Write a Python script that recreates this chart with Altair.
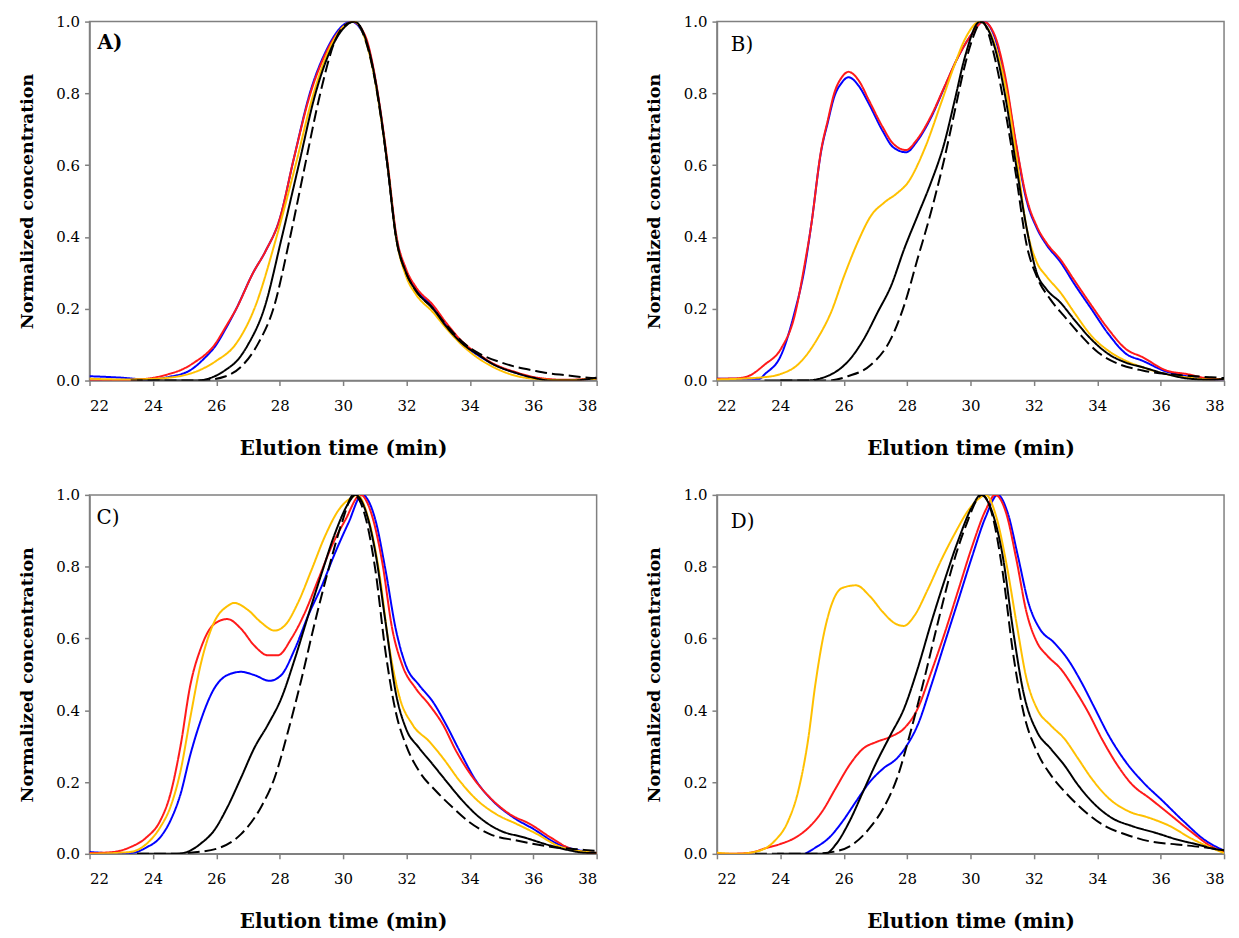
import altair as alt
import pandas as pd

# ---------------- data (elution time, normalized concentration) ----------------
A_BLUE = [(22,0.012),(23,0.008),(23.8,0.003),(24.5,0.01),(25.2,0.03),(25.6,0.06),(26.0,0.1),(26.3,0.145),(26.63,0.2),(27.16,0.3),(27.55,0.36),(28.0,0.45),(28.45,0.62),(28.95,0.8),(29.5,0.925),(30.0,0.99),(30.25,1.0),(30.7,0.955),(31.0,0.845),(31.2,0.735),(31.4,0.6),(31.67,0.405),(31.99,0.305),(32.3,0.255),(32.84,0.205),(33.26,0.155),(33.8,0.1),(34.3,0.068),(34.64,0.05),(35.5,0.02),(36.0,0.008),(36.5,0.002),(37,0.001),(38,0.005)]
A_RED = [(22,0.0),(23,0.001),(23.8,0.005),(24.5,0.018),(24.9,0.03),(25.3,0.05),(25.95,0.1),(26.3,0.15),(26.63,0.2),(27.16,0.3),(27.55,0.36),(28.0,0.45),(28.45,0.62),(28.97,0.8),(29.5,0.92),(30.0,0.985),(30.3,1.0),(30.7,0.96),(31.0,0.85),(31.2,0.74),(31.4,0.61),(31.67,0.41),(31.99,0.31),(32.3,0.26),(32.84,0.21),(33.26,0.16),(33.8,0.105),(34.3,0.072),(34.64,0.052),(35.5,0.022),(36,0.01),(36.5,0.004),(37,0.002),(38,0.006)]
A_YELLOW = [(22,0.005),(23,0.003),(23.8,0.004),(24.5,0.008),(25,0.015),(25.5,0.03),(26,0.055),(26.6,0.1),(27.2,0.2),(27.9,0.4),(28.5,0.6),(29.07,0.8),(29.6,0.93),(30.0,0.985),(30.35,1.0),(30.7,0.95),(31.0,0.84),(31.2,0.73),(31.4,0.6),(31.67,0.4),(31.99,0.29),(32.3,0.24),(32.84,0.19),(33.26,0.145),(33.8,0.095),(34.3,0.06),(34.64,0.042),(35.5,0.012),(36,0.005),(36.5,0.002),(37,0.001),(38,0.005)]
A_BLACK = [(23.5,0.0),(25.4,0.0),(25.9,0.01),(26.3,0.03),(26.7,0.06),(27.0,0.1),(27.51,0.2),(28.07,0.4),(28.6,0.6),(29.13,0.8),(29.6,0.92),(30.0,0.98),(30.35,1.0),(30.7,0.955),(31.0,0.845),(31.2,0.735),(31.4,0.6),(31.67,0.4),(31.99,0.3),(32.3,0.25),(32.84,0.2),(33.26,0.15),(33.8,0.1),(34.3,0.07),(34.64,0.05),(35.5,0.02),(36.0,0.008),(36.55,0.0),(37.2,0.0),(38,0.008)]
A_DASHED = [(23.3,0.0),(25.5,0.0),(26.3,0.012),(26.8,0.04),(27.3,0.1),(27.8,0.2),(28.33,0.4),(28.8,0.6),(29.28,0.8),(29.76,0.95),(30.05,0.99),(30.35,1.0),(30.7,0.95),(31.0,0.84),(31.2,0.73),(31.4,0.6),(31.67,0.4),(31.99,0.3),(32.3,0.25),(32.84,0.2),(33.26,0.155),(33.8,0.105),(34.3,0.075),(35,0.05),(35.5,0.037),(36,0.028),(36.5,0.02),(37,0.015),(37.5,0.01),(38,0.006)]

B_BLUE = [(22,0.005),(23.35,0.005),(23.5,0.017),(24.03,0.072),(24.45,0.19),(24.76,0.31),(24.97,0.43),(25.29,0.64),(25.5,0.72),(25.7,0.79),(25.94,0.83),(26.15,0.845),(26.48,0.82),(26.8,0.77),(27.23,0.695),(27.56,0.65),(27.97,0.636),(28.3,0.665),(28.74,0.73),(29.17,0.815),(29.6,0.9),(30.04,0.965),(30.41,1.0),(30.79,0.95),(31.1,0.835),(31.44,0.655),(31.76,0.505),(32.09,0.425),(32.4,0.378),(32.84,0.33),(33.27,0.27),(33.81,0.2),(34.35,0.13),(34.9,0.075),(35.43,0.055),(36.18,0.025),(36.83,0.012),(37.59,0.003),(38,0.002)]
B_RED = [(22,0.005),(22.6,0.006),(22.98,0.012),(23.5,0.044),(24.03,0.09),(24.45,0.18),(24.76,0.32),(24.97,0.43),(25.29,0.643),(25.5,0.726),(25.7,0.8),(25.94,0.845),(26.15,0.86),(26.48,0.835),(26.8,0.78),(27.23,0.706),(27.56,0.66),(27.97,0.642),(28.3,0.67),(28.74,0.734),(29.17,0.817),(29.6,0.9),(30.04,0.965),(30.41,1.0),(30.79,0.956),(31.1,0.845),(31.44,0.66),(31.76,0.512),(32.09,0.43),(32.4,0.383),(32.84,0.337),(33.27,0.28),(33.81,0.21),(34.35,0.143),(34.9,0.088),(35.43,0.065),(36.18,0.028),(36.83,0.018),(37.59,0.005),(38,0.004)]
B_YELLOW = [(22,0.003),(23.56,0.01),(24.0,0.018),(24.55,0.044),(25.18,0.118),(25.6,0.19),(26.02,0.293),(26.44,0.385),(26.86,0.459),(27.28,0.496),(27.7,0.523),(28.02,0.551),(28.54,0.643),(29.1,0.78),(29.5,0.88),(29.82,0.95),(30.3,1.0),(30.79,0.93),(31.1,0.82),(31.44,0.63),(31.76,0.43),(32.09,0.33),(32.4,0.29),(32.84,0.245),(33.27,0.19),(33.81,0.125),(34.35,0.083),(34.9,0.055),(35.43,0.037),(36.18,0.018),(36.83,0.009),(37.59,0.003),(38,0.003)]
B_BLACK = [(23.5,0.0),(24.8,0.0),(25.6,0.017),(26.23,0.063),(26.65,0.118),(27.07,0.19),(27.5,0.265),(27.91,0.367),(28.33,0.459),(28.75,0.551),(29.17,0.66),(29.5,0.78),(29.82,0.9),(30.3,1.0),(30.79,0.92),(31.1,0.79),(31.44,0.6),(31.76,0.43),(32.09,0.3),(32.4,0.254),(32.84,0.217),(33.27,0.17),(33.81,0.115),(34.35,0.074),(34.9,0.05),(35.43,0.037),(36.18,0.018),(36.83,0.006),(37.59,0.002),(38,0.005)]
B_DASHED = [(24.0,0.0),(25.5,0.0),(26.13,0.012),(26.86,0.044),(27.5,0.118),(27.91,0.21),(28.33,0.339),(28.75,0.468),(29.17,0.616),(29.49,0.745),(29.8,0.87),(30.04,0.946),(30.36,1.0),(30.79,0.89),(31.1,0.75),(31.44,0.57),(31.76,0.383),(32.09,0.29),(32.52,0.226),(32.95,0.18),(33.49,0.125),(34.03,0.078),(34.68,0.046),(35.43,0.028),(36.5,0.016),(37.59,0.009),(38,0.007)]

C_BLUE = [(22,0.005),(22.74,0.002),(23.27,0.002),(23.8,0.018),(24.23,0.046),(24.55,0.092),(24.87,0.166),(25.18,0.276),(25.5,0.369),(25.93,0.46),(26.35,0.498),(26.78,0.507),(27.2,0.498),(27.68,0.482),(28.05,0.498),(28.48,0.571),(28.9,0.664),(29.33,0.747),(29.75,0.839),(30.17,0.922),(30.6,1.0),(31.02,0.93),(31.34,0.79),(31.66,0.627),(31.98,0.525),(32.4,0.47),(32.83,0.424),(33.25,0.36),(33.68,0.286),(34.2,0.203),(34.73,0.147),(35.38,0.101),(36.01,0.069),(36.76,0.028),(37.39,0.011),(38,0.003)]
C_RED = [(22,0.002),(22.74,0.005),(23.27,0.018),(23.8,0.046),(24.23,0.092),(24.55,0.166),(24.87,0.3),(25.18,0.47),(25.5,0.57),(25.93,0.64),(26.35,0.654),(26.78,0.627),(27.2,0.58),(27.63,0.553),(27.94,0.553),(28.37,0.6),(28.8,0.673),(29.22,0.765),(29.64,0.857),(30.07,0.93),(30.55,1.0),(30.92,0.94),(31.24,0.81),(31.55,0.627),(31.87,0.525),(32.3,0.46),(32.72,0.415),(33.15,0.36),(33.57,0.286),(34.1,0.212),(34.63,0.157),(35.27,0.11),(35.9,0.083),(36.54,0.046),(37.18,0.014),(37.6,0.005),(38,0.002)]
C_YELLOW = [(22,0.0),(23.27,0.005),(23.8,0.028),(24.23,0.074),(24.55,0.13),(24.87,0.23),(25.18,0.38),(25.5,0.525),(25.93,0.645),(26.35,0.69),(26.56,0.699),(26.99,0.68),(27.41,0.645),(27.84,0.622),(28.16,0.636),(28.58,0.7),(29.0,0.79),(29.43,0.885),(29.86,0.958),(30.28,0.993),(30.44,1.0),(30.81,0.93),(31.13,0.79),(31.45,0.58),(31.77,0.44),(32.19,0.36),(32.72,0.313),(33.15,0.267),(33.68,0.203),(34.2,0.152),(34.84,0.11),(35.48,0.083),(36.12,0.055),(36.76,0.023),(37.39,0.009),(38,0.003)]
C_BLACK = [(23.5,0.0),(24.76,0.0),(25.18,0.009),(25.5,0.028),(25.93,0.065),(26.35,0.13),(26.78,0.212),(27.2,0.295),(27.63,0.36),(28.05,0.433),(28.48,0.544),(28.9,0.664),(29.33,0.783),(29.75,0.894),(30.17,0.977),(30.39,1.0),(30.7,0.958),(31.02,0.839),(31.34,0.645),(31.66,0.45),(31.98,0.35),(32.4,0.295),(32.83,0.249),(33.25,0.203),(33.78,0.147),(34.31,0.101),(34.95,0.065),(35.7,0.046),(36.54,0.023),(37.18,0.009),(37.6,0.003),(38,0.002)]
C_DASHED = [(23.5,0.0),(24.5,0.0),(25.4,0.005),(26.14,0.018),(26.78,0.055),(27.41,0.13),(27.84,0.212),(28.26,0.34),(28.69,0.488),(29.11,0.645),(29.54,0.793),(29.96,0.922),(30.33,1.0),(30.7,0.94),(31.02,0.79),(31.34,0.562),(31.66,0.396),(31.98,0.304),(32.4,0.23),(32.93,0.175),(33.46,0.129),(33.99,0.088),(34.63,0.055),(35.48,0.037),(36.54,0.02),(37.6,0.011),(38,0.008)]

D_BLUE = [(24.78,0.0),(25.1,0.017),(25.53,0.044),(25.96,0.09),(26.39,0.146),(26.82,0.2),(27.25,0.238),(27.68,0.266),(28.0,0.303),(28.33,0.358),(28.76,0.469),(29.19,0.589),(29.62,0.708),(30.05,0.828),(30.48,0.939),(30.86,1.0),(31.18,0.948),(31.5,0.828),(31.83,0.699),(32.2,0.625),(32.63,0.589),(33.07,0.542),(33.5,0.478),(33.93,0.404),(34.36,0.33),(34.9,0.256),(35.43,0.201),(36.08,0.146),(36.73,0.09),(37.37,0.04),(38,0.009)]
D_RED = [(22,0.003),(22.3,0.0),(22.95,0.002),(23.59,0.017),(24.02,0.028),(24.45,0.044),(24.88,0.072),(25.32,0.118),(25.75,0.183),(26.18,0.247),(26.61,0.293),(27.04,0.312),(27.47,0.326),(27.9,0.349),(28.33,0.404),(28.76,0.506),(29.19,0.616),(29.62,0.736),(30.05,0.856),(30.48,0.958),(30.78,1.0),(31.13,0.948),(31.45,0.819),(31.77,0.672),(32.1,0.589),(32.42,0.552),(32.85,0.515),(33.28,0.459),(33.71,0.395),(34.14,0.321),(34.57,0.256),(35.11,0.192),(35.65,0.155),(36.3,0.109),(36.94,0.063),(37.59,0.021),(38,0.005)]
D_YELLOW = [(22,0.003),(22.62,0.0),(23.27,0.007),(23.81,0.035),(24.24,0.09),(24.56,0.173),(24.88,0.32),(25.1,0.469),(25.32,0.589),(25.64,0.7),(25.96,0.741),(26.39,0.748),(26.82,0.718),(27.25,0.672),(27.58,0.644),(27.9,0.635),(28.22,0.662),(28.65,0.736),(29.08,0.819),(29.51,0.893),(29.94,0.958),(30.27,0.99),(30.48,1.0),(30.81,0.94),(31.13,0.81),(31.45,0.644),(31.77,0.487),(32.1,0.404),(32.53,0.358),(32.96,0.321),(33.39,0.266),(33.82,0.21),(34.36,0.155),(35.0,0.118),(35.65,0.1),(36.3,0.077),(36.94,0.044),(37.59,0.017),(38,0.002)]
D_BLACK = [(23.9,0.0),(25.42,0.0),(25.75,0.026),(26.18,0.09),(26.61,0.173),(27.04,0.256),(27.47,0.33),(27.9,0.404),(28.33,0.515),(28.76,0.644),(29.19,0.764),(29.62,0.875),(30.05,0.967),(30.33,1.0),(30.7,0.948),(31.02,0.828),(31.34,0.625),(31.67,0.45),(32.1,0.34),(32.53,0.293),(32.96,0.247),(33.39,0.192),(33.93,0.137),(34.46,0.1),(35.11,0.077),(35.86,0.058),(36.51,0.04),(37.16,0.026),(37.8,0.012),(38,0.01)]
D_DASHED = [(23.2,0.0),(25.0,0.0),(25.75,0.007),(26.28,0.026),(26.82,0.072),(27.25,0.127),(27.68,0.21),(28.11,0.34),(28.54,0.487),(28.97,0.644),(29.4,0.792),(29.84,0.911),(30.37,1.0),(30.7,0.94),(31.02,0.782),(31.34,0.561),(31.67,0.395),(32.1,0.284),(32.53,0.22),(33.07,0.164),(33.61,0.118),(34.25,0.077),(34.9,0.054),(35.65,0.035),(36.51,0.026),(37.37,0.018),(38,0.01)]

PANELS = [
    ("A)", True, 8, 22, [A_BLUE, A_RED, A_YELLOW, A_DASHED, A_BLACK]),
    ("B)", False, 14, 24, [B_BLUE, B_RED, B_YELLOW, B_DASHED, B_BLACK]),
    ("C)", False, 7, 23, [C_BLUE, C_RED, C_YELLOW, C_DASHED, C_BLACK]),
    ("D)", False, 14, 27, [D_BLUE, D_RED, D_YELLOW, D_DASHED, D_BLACK]),
]
SERIES_COLORS = ["#0000FF", "#FF1A1A", "#FFC000", "#000000", "#000000"]
SERIES_DASH = [[1, 0], [1, 0], [1, 0], [12, 5], [1, 0]]

X_TICKS = [22, 24, 26, 28, 30, 32, 34, 36, 38]
Y_TICKS = [0.0, 0.2, 0.4, 0.6, 0.8, 1.0]

FONT = "DejaVu Serif"
W, H = 510, 361

xscale = alt.Scale(domain=[22, 38], nice=False, zero=False)
yscale = alt.Scale(domain=[0, 1.0], nice=False)


def panel(label, bold, lx, ly, series):
    layers = []
    for pts, col, dash in zip(series, SERIES_COLORS, SERIES_DASH):
        df = pd.DataFrame(pts, columns=["t", "c"])
        layers.append(
            alt.Chart(df).mark_line(color=col, strokeWidth=2, strokeDash=dash,
                                    interpolate="monotone", clip=True).encode(
                x=alt.X("t:Q", scale=xscale,
                        axis=alt.Axis(values=X_TICKS, title="Elution time (min)", format="d")),
                y=alt.Y("c:Q", scale=yscale,
                        axis=alt.Axis(values=Y_TICKS, title="Normalized concentration", format=".1f")),
            )
        )
    txt = alt.Chart(pd.DataFrame({"lab": [label]})).mark_text(
        font=FONT, fontSize=20, fontWeight="bold" if bold else "normal",
        align="left", baseline="middle", color="black"
    ).encode(text="lab:N", x=alt.value(lx), y=alt.value(ly))
    layers.append(txt)
    return alt.layer(*layers).properties(width=W, height=H)


charts = [panel(*p) for p in PANELS]
top = alt.hconcat(charts[0], charts[1], spacing=46)
bottom = alt.hconcat(charts[2], charts[3], spacing=46)
chart = alt.vconcat(top, bottom, spacing=28).properties(
    padding={"left": 9, "top": 3, "right": 5, "bottom": 5}
).configure_view(
    stroke="#808080", strokeWidth=1.5
).configure_axis(
    grid=False,
    domainColor="#808080", domainWidth=1.5,
    tickColor="#808080", tickSize=5, tickWidth=1.5,
    labelFont=FONT, labelFontSize=15, labelColor="black", labelPadding=5,
    titleFont=FONT, titleFontWeight="bold", titleColor="black",
).configure_axisX(
    titlePadding=25, labelPadding=13, titleFontSize=20
).configure_axisY(
    titlePadding=20, labelPadding=5, titleFontSize=17.5
)

chart.save("out.html", embed_options={"renderer": "svg", "actions": False})
